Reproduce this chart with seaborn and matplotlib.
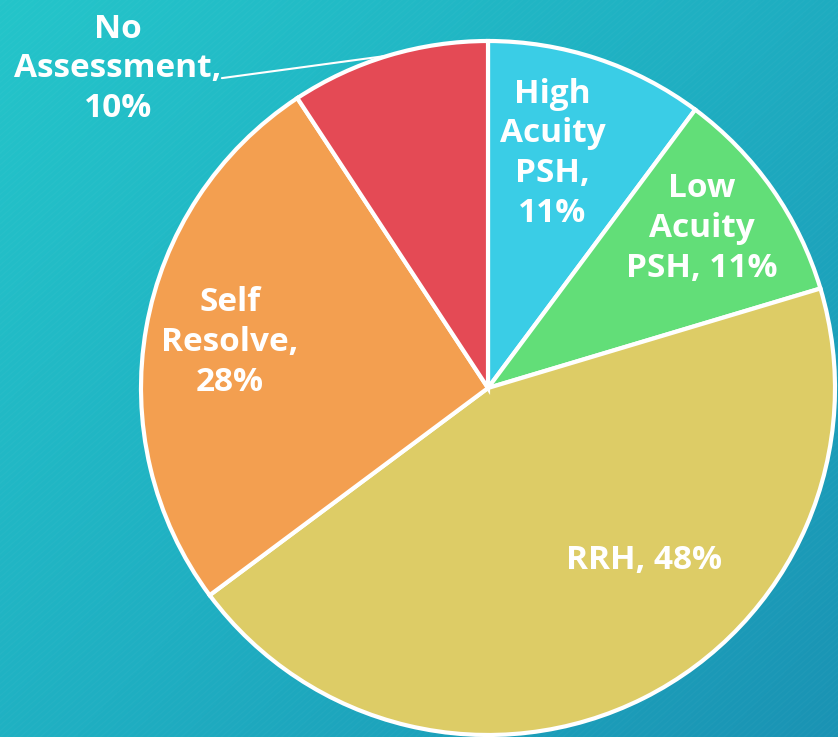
import numpy as np
import matplotlib
matplotlib.use("Agg")
import matplotlib.pyplot as plt
import seaborn as sns
from matplotlib.colors import LinearSegmentedColormap

categories = ["High Acuity PSH", "Low Acuity PSH", "RRH", "Self Resolve", "No Assessment"]
values = [11, 11, 48, 28, 10]
label_texts = ["High\nAcuity\nPSH,\n11%", "Low\nAcuity\nPSH, 11%", "RRH, 48%",
               "Self\nResolve,\n28%", "No\nAssessment,\n10%"]
colors = ["#3ACDE6", "#62DE78", "#DDCC66", "#F39F50", "#E44A55"]

sns.set_theme(style="white")
plt.rcParams['font.family'] = ['Open Sans', 'DejaVu Sans']

fig = plt.figure(figsize=(8.38, 7.37), dpi=100)

# background gradient
bg = fig.add_axes([0, 0, 1, 1], zorder=0)
bg.axis("off")
yy, xx = np.mgrid[0:1:300j, 0:1:300j]
grad = (xx * 0.55 + yy * 0.45)
cmap = LinearSegmentedColormap.from_list("bg", ["#24C5CA", "#1FAFC2", "#1A93B4"])
bg.imshow(grad, cmap=cmap, extent=[0, 1, 0, 1], aspect="auto", origin="upper")
for k in np.arange(-1, 2, 0.008):
    bg.plot([k, k + 1], [0, 1], color="white", alpha=0.025, lw=1)
bg.set_xlim(0, 1); bg.set_ylim(0, 1)

ax = fig.add_axes([141 / 838, 2 / 737, 694 / 838, 694 / 737], zorder=1)
ax.set_facecolor("none")
wedges, _ = ax.pie(values, colors=colors, startangle=90, counterclock=False,
                   wedgeprops=dict(edgecolor="white", linewidth=3))
ax.set_xlim(-1.0, 1.0)
ax.set_ylim(-1.0, 1.0)
ax.set_aspect("equal")
ax.axis("off")

label_pos = [(0.70, 74.6), (0.77, 36.7), (0.67, -48.0), (0.755, 170.0), None]
tp = dict(color="white", fontsize=24, fontweight="bold", ha="center", va="center",
          linespacing=1.27)
for i, (w, txt) in enumerate(zip(wedges, label_texts)):
    pos = label_pos[i]
    if pos is not None:
        r, a = pos
        ax.text(r * np.cos(np.radians(a)), r * np.sin(np.radians(a)), txt, **tp)
    else:
        mid = np.radians((w.theta1 + w.theta2) / 2)
        ex, ey = np.cos(mid), np.sin(mid)
        ax.text(-1.066, 0.92, txt, clip_on=False, **tp)
        ax.plot([ex, -0.767], [ey, 0.893], color="white", lw=1.5,
                clip_on=False, solid_capstyle="round")

fig.savefig("out.png", dpi=100)
